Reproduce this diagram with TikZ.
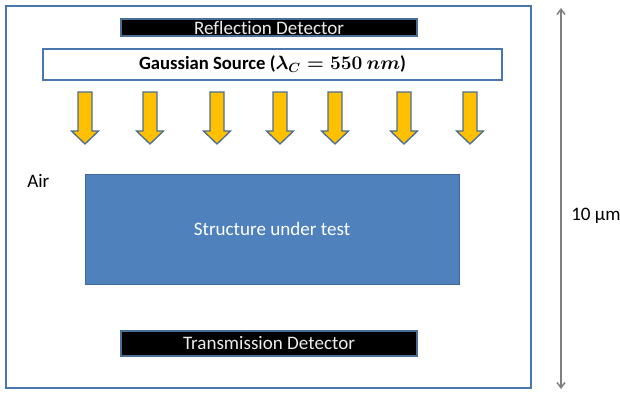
\documentclass[tikz,border=0pt]{standalone}
\usepackage{fontspec}
\setmainfont[Ligatures=NoCommon]{Carlito}
\usetikzlibrary{arrows.meta}
\definecolor{frameblue}{HTML}{4A76AE}
\definecolor{structblue}{HTML}{4F81BD}
\definecolor{arrowgold}{HTML}{FFC000}
\definecolor{arrowedge}{HTML}{4A6E96}
\definecolor{dimgray}{HTML}{7F7F7F}
\tikzset{
  txt/.style={font=\fontsize{14.3}{16}\selectfont},
  detbox/.style={txt, draw=arrowedge, fill=black, text=white!92!black, line width=0.8pt, inner sep=0pt},
  srcbox/.style={draw=frameblue, fill=white, line width=1pt, inner sep=0pt, font=\fontsize{14}{16}\selectfont\bfseries},
  structbox/.style={txt, draw=structblue!80!black, fill=structblue, text=white, line width=0.5pt, inner sep=0pt},
  lbl/.style={txt, inner sep=0pt},
  beam/.style={fill=arrowgold, draw=arrowedge, line width=1pt, line join=miter},
  dimline/.style={draw=dimgray, line width=1.1pt, {Straight Barb[length=4pt,width=6pt]}-{Straight Barb[length=4pt,width=6pt]}}
}
\begin{document}
\begin{tikzpicture}[x=0.75pt,y=-0.75pt]
\useasboundingbox (0,0) rectangle (620,392);
% outer simulation domain
\draw[draw=frameblue, line width=1.1pt] (6,6) rectangle (531,388);
% reflection detector
\node[detbox, minimum width=296*0.75pt, minimum height=17*0.75pt] (refl) at (269,27.5) {Reflection Detector};
% source
\node[srcbox, minimum width=459*0.75pt, minimum height=31*0.75pt] (src) at (272.5,64.5) {Gaussian Source ({\boldmath$\lambda_C = 550\ nm$})};
% beams
\foreach \cx [count=\i] in {85,150,217,280,335,404,470}{
  \draw[beam] (\cx-7,92) -- (\cx+7,92) -- (\cx+7,131) -- (\cx+13.5,131) -- (\cx,144) -- (\cx-13.5,131) -- (\cx-7,131) -- cycle;
  \coordinate (beam\i) at (\cx,144);
}
% air label
\node[lbl, anchor=west] (air) at (27,181) {Air};
% structure
\node[structbox, minimum width=374*0.75pt, minimum height=110*0.75pt] (struct) at (272,229) {Structure under test};
% transmission detector
\node[detbox, minimum width=296*0.75pt, minimum height=25*0.75pt] (trans) at (269,343.5) {Transmission Detector};
% dimension
\coordinate (dtop) at (561,8);
\coordinate (dbot) at (561,389);
\draw[dimline] (dtop) -- (dbot);
\node[lbl, anchor=west] (dim) at (571,216) {10 µm};
\end{tikzpicture}
\end{document}
